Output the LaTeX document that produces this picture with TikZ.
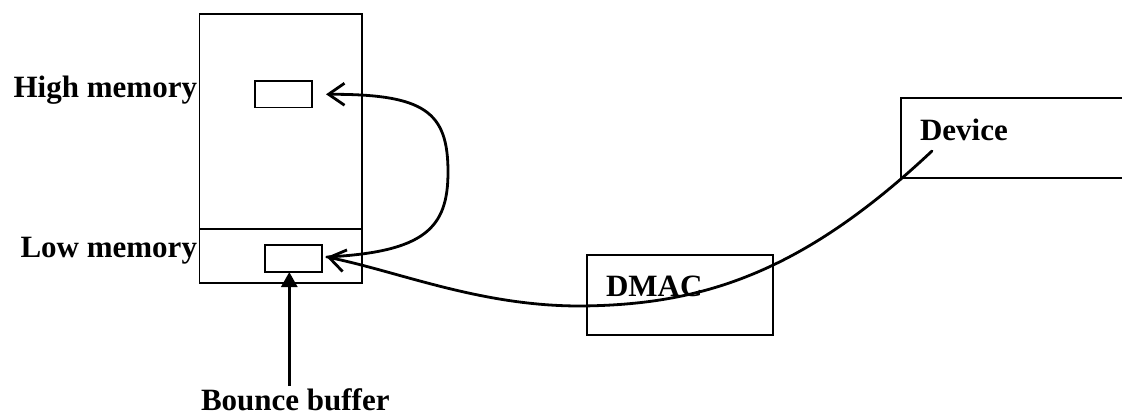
\documentclass[tikz,border=0pt]{standalone}
\usepackage{fontspec}
\setmainfont{Liberation Serif}
\usetikzlibrary{arrows.meta}
\begin{document}
\begin{tikzpicture}[x=1pt,y=-1pt,
  box/.style={draw=black, line width=1.8pt, fill=none, inner sep=0pt, outer sep=0pt},
  lbl/.style={font=\fontsize{31}{36}\bfseries\selectfont, inner sep=0pt, outer sep=0pt},
  flow/.style={draw=black, line width=2.8pt, line cap=round, -{Straight Barb[length=16pt,width=22pt,line width=2.8pt]}},
  push/.style={draw=black, line width=2.8pt, -{Triangle[length=15pt,width=16pt]}}
]
\path[use as bounding box] (0,0) rectangle (1122,416);
\clip (0,0) rectangle (1122,416);

% memory column, split into high and low memory
\node[box, minimum width=162.2pt, minimum height=269pt] (mem) at (280.6,148.5) {};
\coordinate (split) at (0,229);
\draw[line width=1.8pt] (mem.west |- split) -- (mem.east |- split);

% pages in high and low memory
\node[box, minimum width=56.7pt, minimum height=26.5pt] (hi) at (283.7,94.3) {};
\node[box, minimum width=56.4pt, minimum height=27pt] (lo) at (293.5,258.5) {};

% controller and device
\node[box, minimum width=186pt, minimum height=80pt] (dmac) at (680.3,295) {};
\node[box, minimum width=239pt, minimum height=79.4pt] (dev) at (1020.5,138) {};

% labels
\node[lbl, anchor=base east] (hilbl) at (197,97) {High memory};
\node[lbl, anchor=base east] (lolbl) at (197,257) {Low memory};
\node[lbl, anchor=base west] (devlbl) at (920,140) {Device};
\node[lbl, anchor=base west] (dmaclbl) at (606,296) {DMAC};
\node[lbl, anchor=base west, text depth=0pt] (bblbl) at (201,410) {Bounce buffer};

% connector end points
\coordinate (lotip) at ([shift={(5,-1.5)}]lo.east);
\coordinate (hitip) at ([shift={(14,0)}]hi.east);
\coordinate (devout) at (932,151);
\coordinate (low) at (580,306);
\coordinate (bbtop) at (289.3,386);
\coordinate (lobot) at (lo.south -| bbtop);

% device -> DMAC -> bounce buffer
\draw[flow] (devout) .. controls (800,275) and (700,305) .. (low)
  .. controls (480,306) and (400,272) .. (lotip);

% bounce buffer copied up to high memory
\draw[flow] (lotip) .. controls (425,252) and (448,228) .. (448,172)
  .. controls (448,112) and (425,94) .. (hitip);

% bounce buffer marker
\draw[push] (bbtop) -- (lobot);
\end{tikzpicture}
\end{document}
